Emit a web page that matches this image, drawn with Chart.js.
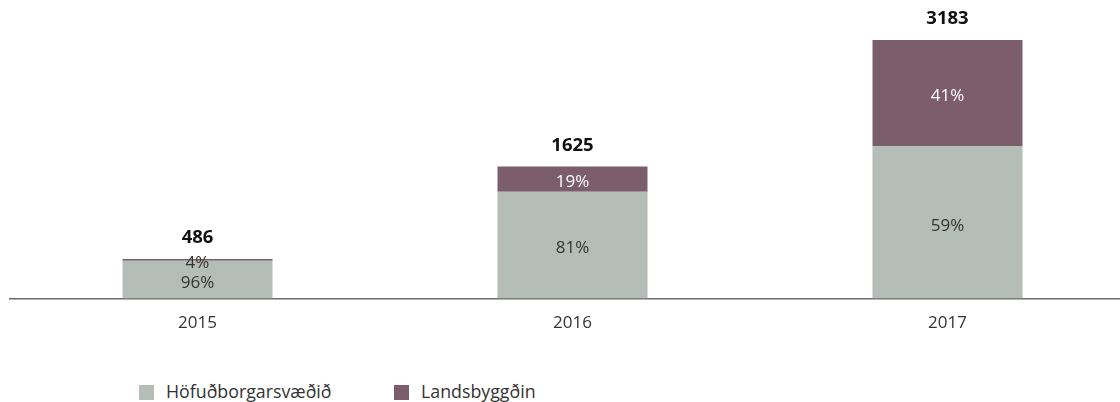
<!DOCTYPE html>
<html>
<head>
<meta charset="utf-8">
<script src="https://cdn.jsdelivr.net/npm/chart.js@4"></script>
<style>
  html, body { margin: 0; padding: 0; background: #fff; overflow: hidden; }
  #wrap { position: relative; width: 1135px; height: 357px; }
  #legend { position: absolute; left: 139px; top: 379px; font-family: "Open Sans", sans-serif; font-size: 17.8px; color: #333; }
  #legend span.item { position: absolute; white-space: nowrap; }
  #legend i { display: inline-block; width: 15px; height: 15px; vertical-align: -2px; margin-right: 12px; }
</style>
</head>
<body>
<div id="wrap"><canvas id="chart" width="1135" height="357"></canvas></div>
<div id="legend"></div>
<script>
// data
const years = ['2015', '2016', '2017'];
const capitalArea = [467, 1316, 1878];   // Höfuðborgarsvæðið
const countryside = [19, 309, 1305];     // Landsbyggðin
const seriesNames = ['Höfuðborgarsvæðið', 'Landsbyggðin'];
const seriesColors = ['#b4bdb8', '#7c5d6c'];

const totals = years.map((y, i) => capitalArea[i] + countryside[i]);
const FONT = '"Open Sans", sans-serif';

// percentage inside each segment + total on top
const labelPlugin = {
  id: 'labels',
  afterDatasetsDraw(chart) {
    const ctx = chart.ctx;
    ctx.save();
    ctx.textAlign = 'center';
    ctx.textBaseline = 'middle';
    ctx.font = '17px ' + FONT;
    chart.data.datasets.forEach((ds, di) => {
      chart.getDatasetMeta(di).data.forEach((bar, i) => {
        const pct = Math.round(ds.data[i] / totals[i] * 100) + '%';
        const h = Math.abs(bar.base - bar.y);
        ctx.fillStyle = (di === 1 && h > 14) ? '#ffffff' : '#333333';
        ctx.fillText(pct, bar.x, (bar.y + bar.base) / 2 + 3.5);
      });
    });
    ctx.font = 'bold 18.5px ' + FONT;
    ctx.fillStyle = '#111';
    chart.getDatasetMeta(1).data.forEach((bar, i) => {
      ctx.fillText(String(totals[i]), bar.x, bar.y - 21);
    });
    ctx.restore();
  }
};

new Chart(document.getElementById('chart'), {
  type: 'bar',
  data: {
    labels: years,
    datasets: [
      { label: seriesNames[0], data: capitalArea, backgroundColor: seriesColors[0] },
      { label: seriesNames[1], data: countryside, backgroundColor: seriesColors[1] }
    ]
  },
  options: {
    responsive: false,
    maintainAspectRatio: false,
    animation: false,
    layout: { padding: { left: 10, right: 0, top: 0, bottom: 10 } },
    datasets: { bar: { barPercentage: 1, categoryPercentage: 0.4 } },
    plugins: { legend: { display: false }, tooltip: { enabled: false } },
    scales: {
      x: {
        stacked: true,
        grid: { display: false, drawTicks: false },
        border: { display: true, color: '#6b6b6b', width: 1.5 },
        ticks: { padding: 14, color: '#333', font: { family: FONT, size: 17 } }
      },
      y: {
        stacked: true,
        display: false,
        min: 0,
        max: 3675
      }
    }
  },
  plugins: [labelPlugin]
});

// legend
const legend = document.getElementById('legend');
const legendX = [0, 255];
seriesNames.forEach((name, i) => {
  const s = document.createElement('span');
  s.className = 'item';
  s.style.left = legendX[i] + 'px';
  s.innerHTML = '<i style="background:' + seriesColors[i] + '"></i>' + name;
  legend.appendChild(s);
});
</script>
</body>
</html>
